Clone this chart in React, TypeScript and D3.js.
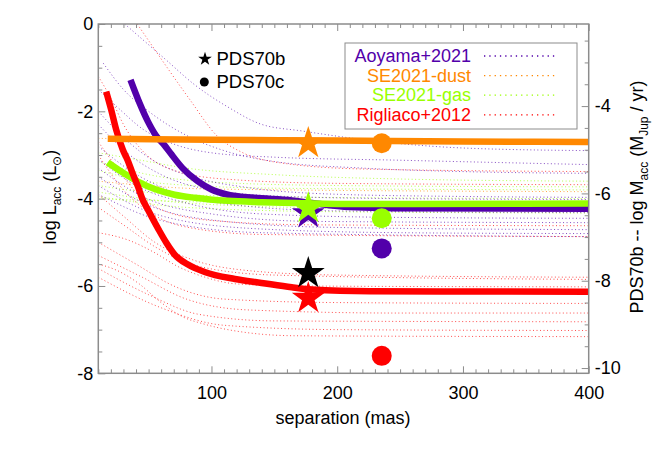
import { useRef, useEffect } from 'react';
import * as d3 from 'd3';

type Pt = [number, number];

// thick "best" curves: [separation (mas), log Lacc]
const aoyamaMain: Pt[] = [
  [35.6, -1.28], [42.8, -1.81], [49.4, -2.23], [56, -2.56], [62.7, -2.78], [68, -2.98],
  [77, -3.3], [89, -3.6], [100, -3.79], [113, -3.91], [134, -3.98], [164, -4.04],
  [180, -4.1], [210, -4.19], [260, -4.22], [400, -4.23],
];
const seGasMain: Pt[] = [
  [17.5, -3.17], [28.2, -3.38], [41.5, -3.61], [54.8, -3.78], [70.7, -3.91], [86.7, -3.98],
  [113, -4.05], [140, -4.08], [166, -4.1], [200, -4.12], [260, -4.12], [400, -4.11],
];
const rigliacoMain: Pt[] = [
  [16.3, -1.55], [20.3, -1.97], [24.2, -2.42], [29.5, -2.88], [33.5, -3.13], [37, -3.4],
  [41.5, -3.72], [45, -4.0], [49.4, -4.25], [58, -4.71], [64.1, -5.01], [70.7, -5.28],
  [81.3, -5.51], [94.6, -5.68], [118.6, -5.84], [139.8, -5.93], [163.8, -6.03], [180, -6.08],
  [226, -6.12], [400, -6.13],
];
const seDustMain: Pt[] = [[17.5, -2.63], [100, -2.65], [200, -2.67], [300, -2.69], [400, -2.7]];

// thin dotted model curves
const aoyamaModels: Pt[][] = [
  [[31, 0], [45, -0.35], [63, -0.8], [87, -1.4], [113, -1.9], [140, -2.3], [172, -2.45], [230, -2.68], [300, -2.84], [400, -2.9]],
  [[10, -1.5], [25, -1.9], [45, -2.4], [70, -2.75], [100, -2.95], [150, -3.05], [250, -3.12], [400, -3.22]],
  [[14, -0.9], [30, -1.5], [50, -2.0], [80, -2.55], [110, -2.9], [150, -3.15], [220, -3.3], [300, -3.38], [400, -3.42]],
  [[10, -2.0], [30, -2.6], [55, -3.15], [85, -3.5], [130, -3.75], [200, -3.9], [300, -3.95], [400, -3.97]],
  [[10, -2.3], [35, -3.0], [60, -3.45], [100, -3.8], [160, -3.95], [250, -4.0], [400, -4.02]],
  [[10, -2.8], [35, -3.35], [70, -3.85], [120, -4.15], [200, -4.28], [400, -4.32]],
  [[10, -3.1], [40, -3.7], [80, -4.1], [140, -4.35], [250, -4.43], [400, -4.45]],
  [[10, -3.3], [45, -3.95], [100, -4.35], [180, -4.52], [400, -4.55]],
  [[10, -3.5], [50, -4.15], [110, -4.52], [200, -4.66], [400, -4.71]],
  [[10, -3.7], [55, -4.35], [130, -4.68], [250, -4.78], [400, -4.8]],
  [[10, -3.9], [60, -4.5], [140, -4.78], [400, -4.87]],
];
const rigliacoModels: Pt[][] = [
  [[41, 0], [60, -0.8], [83, -1.74], [104, -2.55], [125, -2.95], [160, -3.2], [220, -3.32], [400, -3.38]],
  [[10, -1.2], [20, -1.7], [30, -2.3], [45, -2.9], [70, -3.35], [110, -3.55], [200, -3.65], [400, -3.68]],
  [[10, -2.7], [25, -3.3], [40, -3.85], [60, -4.25], [100, -4.5], [180, -4.6], [400, -4.62]],
  [[10, -3.0], [30, -3.8], [50, -4.3], [80, -4.65], [140, -4.82], [400, -4.87]],
  [[10, -3.9], [30, -4.4], [55, -5.0], [85, -5.4], [130, -5.65], [200, -5.75], [400, -5.8]],
  [[10, -4.2], [30, -4.6], [55, -5.1], [90, -5.55], [150, -5.75], [400, -5.85]],
  [[10, -4.78], [33, -4.94], [55, -5.24], [73, -5.55], [95, -5.8], [119, -5.95], [166, -6.0], [400, -6.02]],
  [[10, -5.0], [40, -5.5], [70, -6.0], [110, -6.3], [200, -6.38], [400, -6.4]],
  [[10, -5.3], [45, -5.8], [80, -6.3], [130, -6.55], [250, -6.62], [400, -6.62]],
  [[10, -5.6], [50, -6.2], [90, -6.65], [150, -6.8], [400, -6.82]],
  [[10, -5.8], [60, -6.5], [110, -6.9], [200, -7.0], [400, -7.02]],
  [[10, -5.5], [23, -5.62], [41.5, -5.93], [60, -6.38], [76, -6.69], [95, -6.88], [119, -7.03], [166, -7.14], [400, -7.16]],
];
const seGasModels: Pt[][] = [
  [[10, -2.95], [40, -3.1], [80, -3.3], [150, -3.45], [250, -3.55], [400, -3.6]],
  [[10, -3.15], [50, -3.45], [100, -3.62], [200, -3.7], [400, -3.73]],
  [[10, -3.35], [60, -3.65], [150, -3.76], [400, -3.8]],
  [[10, -3.7], [60, -3.88], [150, -3.96], [400, -4.0]],
  [[10, -3.85], [80, -4.1], [200, -4.22], [400, -4.28]],
  [[10, -3.95], [80, -4.2], [200, -4.3], [400, -4.33]],
  [[10, -4.0], [60, -4.05], [150, -4.1], [400, -4.12]],
];
const seDustModels: Pt[][] = [
  [[10, -2.62], [400, -2.7]],
  [[10, -3.6], [100, -3.78], [400, -3.84]],
];

// planets
const sepB = 177;
const sepC = 235.4;
const starsB = [
  { name: 'SE2021-dust', L: -2.73 },
  { name: 'Aoyama+2021', L: -4.34 },
  { name: 'SE2021-gas', L: -4.22 },
  { name: 'Rigliaco+2012', L: -6.28 },
  { name: 'measured', L: -5.71 },
];
const circlesC = [
  { name: 'SE2021-dust', L: -2.73 },
  { name: 'SE2021-gas', L: -4.45 },
  { name: 'Aoyama+2021', L: -5.14 },
  { name: 'Rigliaco+2012', L: -7.6 },
];

const legendNames = ['Aoyama+2021', 'SE2021-dust', 'SE2021-gas', 'Rigliaco+2012'];
const colors: Record<string, string> = {
  'Aoyama+2021': '#5200aa',
  'SE2021-dust': '#ff8800',
  'SE2021-gas': '#99ff00',
  'Rigliaco+2012': '#ff0000',
  measured: '#000000',
};

const xTicks = [100, 200, 300, 400];
const yTicks = [0, -2, -4, -6, -8];
const yRightTicks = [-4, -6, -8, -10];

const FONT = '"Liberation Sans", Arial, Helvetica, sans-serif';

export default function App() {
  const svgRef = useRef<SVGSVGElement | null>(null);

  useEffect(() => {
    const width = 654;
    const height = 467;
    const left = 98.3;
    const right = 588.7;
    const top = 24;
    const bottom = 373.3;

    const svg = d3.select(svgRef.current).attr('width', width).attr('height', height);
    svg.selectAll('*').remove();

    const x = d3.scaleLinear().domain([10, 400]).range([left, right]);
    const y = d3.scaleLinear().domain([0, -8]).range([top, bottom]);
    // right axis is the same scale shifted
    const yR = d3.scaleLinear().domain([-2.12, -10.12]).range([top, bottom]);

    svg.append('defs').append('clipPath').attr('id', 'plot-clip')
      .append('rect')
      .attr('x', left).attr('y', top)
      .attr('width', right - left).attr('height', bottom - top);

    const line = d3.line<Pt>()
      .x((d) => x(d[0]))
      .y((d) => y(d[1]))
      .curve(d3.curveMonotoneX);

    const plot = svg.append('g').attr('clip-path', 'url(#plot-clip)');

    // dotted model grids
    const families: [string, Pt[][]][] = [
      ['Rigliaco+2012', rigliacoModels],
      ['SE2021-gas', seGasModels],
      ['Aoyama+2021', aoyamaModels],
      ['SE2021-dust', seDustModels],
    ];
    families.forEach(([name, curves]) => {
      plot.append('g')
        .selectAll('path')
        .data(curves)
        .join('path')
        .attr('d', (d) => line(d))
        .attr('fill', 'none')
        .attr('stroke', colors[name])
        .attr('stroke-width', 1)
        .attr('stroke-dasharray', '1 2.5')
        .attr('opacity', 0.7);
    });

    // thick curves
    const mains: [string, Pt[]][] = [
      ['Aoyama+2021', aoyamaMain],
      ['SE2021-gas', seGasMain],
      ['Rigliaco+2012', rigliacoMain],
      ['SE2021-dust', seDustMain],
    ];
    mains.forEach(([name, data]) => {
      plot.append('path')
        .datum(data)
        .attr('d', line)
        .attr('fill', 'none')
        .attr('stroke', colors[name])
        .attr('stroke-width', 6.5)
        .attr('stroke-linejoin', 'round');
    });

    // planets
    const bigStar = d3.symbol().type(d3.symbolStar).size(336);
    svg.append('g')
      .selectAll('path')
      .data(starsB)
      .join('path')
      .attr('d', bigStar)
      .attr('transform', (d) => `translate(${x(sepB)},${y(d.L)})`)
      .attr('fill', (d) => colors[d.name]);

    svg.append('g')
      .selectAll('circle')
      .data(circlesC)
      .join('circle')
      .attr('cx', x(sepC))
      .attr('cy', (d) => y(d.L))
      .attr('r', 10)
      .attr('fill', (d) => colors[d.name]);

    // axes
    const axisColor = '#8c8c8c';
    const styleAxis = (g: d3.Selection<SVGGElement, unknown, null, undefined>) => {
      g.select('.domain').remove();
      g.selectAll('.tick line').attr('stroke', axisColor).attr('stroke-width', 1);
      g.selectAll('.tick text')
        .attr('fill', '#000')
        .style('font-family', FONT)
        .style('font-size', '18px');
    };
    const minorX = d3.range(10, 401, 10).filter((v) => v % 100 !== 0);
    const minorY = d3.range(0, -8.01, -0.5).filter((v) => v % 2 !== 0);
    const minorYR = d3.range(-2.5, -10.01, -0.5).filter((v) => v % 2 !== 0);

    svg.append('g').attr('transform', `translate(0,${bottom})`)
      .call(d3.axisBottom(x).tickValues(minorX).tickSize(-4).tickFormat(() => ''))
      .call(styleAxis);
    svg.append('g').attr('transform', `translate(0,${bottom})`)
      .call(d3.axisBottom(x).tickValues(xTicks).tickSize(-7).tickPadding(13).tickFormat((d) => `${d}`))
      .call(styleAxis);
    svg.append('g').attr('transform', `translate(0,${top})`)
      .call(d3.axisTop(x).tickValues(minorX).tickSize(-4).tickFormat(() => ''))
      .call(styleAxis);
    svg.append('g').attr('transform', `translate(0,${top})`)
      .call(d3.axisTop(x).tickValues(xTicks).tickSize(-7).tickFormat(() => ''))
      .call(styleAxis);

    svg.append('g').attr('transform', `translate(${left},0)`)
      .call(d3.axisLeft(y).tickValues(minorY).tickSize(-4).tickFormat(() => ''))
      .call(styleAxis);
    svg.append('g').attr('transform', `translate(${left},0)`)
      .call(d3.axisLeft(y).tickValues(yTicks).tickSize(-7).tickPadding(5).tickFormat((d) => `${d}`))
      .call(styleAxis);

    svg.append('g').attr('transform', `translate(${right},0)`)
      .call(d3.axisRight(yR).tickValues(minorYR).tickSize(-4).tickFormat(() => ''))
      .call(styleAxis);
    svg.append('g').attr('transform', `translate(${right},0)`)
      .call(d3.axisRight(yR).tickValues(yRightTicks).tickSize(-7).tickPadding(6).tickFormat((d) => `${d}`))
      .call(styleAxis);

    // frame
    svg.append('rect')
      .attr('x', left).attr('y', top)
      .attr('width', right - left).attr('height', bottom - top)
      .attr('fill', 'none')
      .attr('stroke', axisColor)
      .attr('stroke-width', 1.5);

    // axis titles
    const txt = (sel: any) => sel.style('font-family', FONT).attr('fill', '#000');

    svg.append('text')
      .attr('x', 343).attr('y', 424)
      .attr('text-anchor', 'middle')
      .style('font-size', '18px')
      .call(txt)
      .text('separation (mas)');

    const yTitle = svg.append('text')
      .attr('transform', 'translate(56,197) rotate(-90)')
      .attr('text-anchor', 'middle')
      .style('font-size', '18px')
      .call(txt);
    yTitle.append('tspan').text('log L');
    yTitle.append('tspan').attr('dy', 5).style('font-size', '12px').text('acc');
    yTitle.append('tspan').attr('dy', -5).text(' (L');
    yTitle.append('tspan').attr('dy', 5).style('font-size', '12px').text('\u2299');
    yTitle.append('tspan').attr('dy', -5).text(')');

    const rTitle = svg.append('text')
      .attr('transform', 'translate(643,197) rotate(-90)')
      .attr('text-anchor', 'middle')
      .style('font-size', '18px')
      .call(txt);
    rTitle.append('tspan').text('PDS70b -- log M');
    rTitle.append('tspan').attr('dy', 5).style('font-size', '12px').text('acc');
    rTitle.append('tspan').attr('dy', -5).text(' (M');
    rTitle.append('tspan').attr('dy', 5).style('font-size', '12px').text('Jup');
    rTitle.append('tspan').attr('dy', -5).text(' / yr)');

    // planet key
    svg.append('path')
      .attr('d', d3.symbol().type(d3.symbolStar).size(58)())
      .attr('transform', 'translate(205,59)')
      .attr('fill', '#000');
    svg.append('circle').attr('cx', 204.3).attr('cy', 82).attr('r', 4.5).attr('fill', '#000');
    svg.append('text').attr('x', 216.5).attr('y', 65).style('font-size', '18.5px').call(txt).text('PDS70b');
    svg.append('text').attr('x', 216.5).attr('y', 88).style('font-size', '18.5px').call(txt).text('PDS70c');

    // legend
    const legend = svg.append('g');
    legend.append('rect')
      .attr('x', 345).attr('y', 43).attr('width', 232).attr('height', 86)
      .attr('fill', '#fff')
      .attr('stroke', axisColor)
      .attr('stroke-width', 1);
    const rows = legend.selectAll('g.row')
      .data(legendNames)
      .join('g')
      .attr('class', 'row')
      .attr('transform', (_d, i) => `translate(0,${56 + i * 19.6})`);
    rows.append('text')
      .attr('x', 471).attr('y', 6)
      .attr('text-anchor', 'end')
      .style('font-family', FONT)
      .style('font-size', '18px')
      .attr('fill', (d) => colors[d])
      .text((d) => d);
    rows.append('line')
      .attr('x1', 484).attr('x2', 558)
      .attr('stroke', (d) => colors[d])
      .attr('stroke-width', 1.3)
      .attr('stroke-dasharray', '1.3 4');
  }, []);

  return (
    <svg
      ref={svgRef}
      style={{ position: 'absolute', left: 0, top: 0, background: '#fff' }}
    />
  );
}
